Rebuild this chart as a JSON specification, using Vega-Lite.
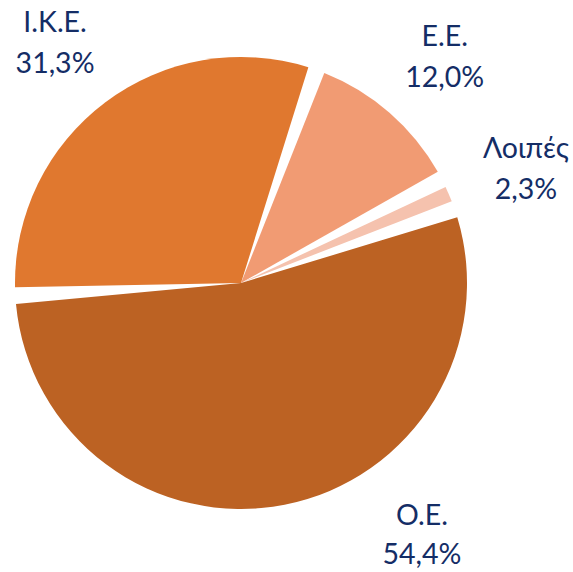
{
  "$schema": "https://vega.github.io/schema/vega-lite/v6.json",
  "width": 482,
  "height": 566,
  "autosize": "none",
  "padding": {"left": 0, "top": 0, "right": 91, "bottom": 6},
  "background": "white",
  "config": {"view": {"stroke": null}},
  "data": {
    "values": [
      {"category": "Ε.Ε.", "value": 12.0, "pct": "12,0%", "order": 1},
      {"category": "Λοιπές", "value": 2.3, "pct": "2,3%", "order": 2},
      {"category": "Ο.Ε.", "value": 54.4, "pct": "54,4%", "order": 3},
      {"category": "Ι.Κ.Ε.", "value": 31.3, "pct": "31,3%", "order": 4}
    ]
  },
  "encoding": {
    "theta": {"field": "value", "type": "quantitative", "stack": true, "scale": {"range": [0.34, 6.6232]}},
    "order": {"field": "order", "type": "quantitative"}
  },
  "layer": [
    {
      "mark": {"type": "arc", "outerRadius": 226, "padAngle": 0.075},
      "encoding": {
        "color": {
          "field": "category",
          "type": "nominal",
          "scale": {
            "domain": ["Ε.Ε.", "Λοιπές", "Ο.Ε.", "Ι.Κ.Ε."],
            "range": ["#F19B73", "#F5C2AE", "#BC6223", "#E0782F"]
          },
          "legend": null
        }
      }
    },
    {
      "mark": {"type": "text", "radius": 310, "font": "Lato", "fontSize": 28.5, "color": "#142D66", "align": "center", "baseline": "middle", "dy": -12},
      "encoding": {"text": {"condition": {"test": "datum.category == 'Ο.Ε.'", "value": ""}, "field": "category"}}
    },
    {
      "mark": {"type": "text", "radius": 310, "font": "Lato", "fontSize": 28.5, "color": "#142D66", "align": "center", "baseline": "middle", "dy": 29},
      "encoding": {"text": {"condition": {"test": "datum.category == 'Ο.Ε.'", "value": ""}, "field": "pct"}}
    },
    {
      "mark": {"type": "text", "radius": 314, "thetaOffset": -0.42, "font": "Lato", "fontSize": 28.5, "color": "#142D66", "align": "center", "baseline": "middle", "dy": -24},
      "encoding": {"text": {"condition": {"test": "datum.category != 'Ο.Ε.'", "value": ""}, "field": "category"}}
    },
    {
      "mark": {"type": "text", "radius": 314, "thetaOffset": -0.42, "font": "Lato", "fontSize": 28.5, "color": "#142D66", "align": "center", "baseline": "middle", "dy": 15},
      "encoding": {"text": {"condition": {"test": "datum.category != 'Ο.Ε.'", "value": ""}, "field": "pct"}}
    }
  ]
}
